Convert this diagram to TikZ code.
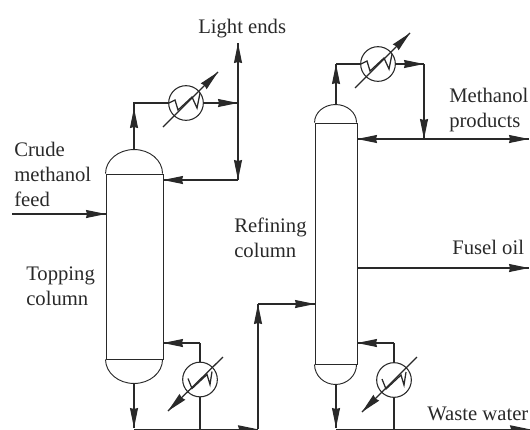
\documentclass[tikz,border=0pt]{standalone}
\usepackage{fontspec}
\setmainfont{Liberation Serif}
\usetikzlibrary{arrows.meta,decorations.markings,calc}
\definecolor{ink}{gray}{0.16}
\tikzset{
  x=0.75pt,y=-0.75pt,
  pipe/.style={draw=ink,line width=0.95pt},
  vessel/.style={draw=ink,line width=0.7pt},
  hxshell/.style={draw=ink,line width=0.8pt,circle,inner sep=0pt,minimum size=26pt},
  coil/.style={draw=ink,line width=0.95pt},
  lbl/.style={text=ink,inner sep=0pt,anchor=base west,align=left,font=\fontsize{15.5}{18.4}\selectfont},
  tipend/.style={postaction={decorate},decoration={markings,mark=at position 1 with {\arrow{Stealth[length=15pt,width=6pt,inset=0.8pt]}}}},
}
\newcommand{\zigzag}[1]{\draw[coil] ($(#1)+(-17,0)$) -- ($(#1)+(-11,-3)$) -- ($(#1)+(-8,7)$) -- ($(#1)+(6,-6)$) -- ($(#1)+(11,5)$) -- ($(#1)+(14,-10)$);}
\begin{document}
\begin{tikzpicture}
\useasboundingbox (0,0) rectangle (530,429);
\clip (0,0) rectangle (530,429);

% column bodies
\node[vessel,rectangle,inner sep=0pt,minimum width=42.75pt,minimum height=138.75pt] (col1) at (134.5,266.5) {};
\node[vessel,rectangle,inner sep=0pt,minimum width=31.5pt,minimum height=180.75pt] (col2) at (336,243.5) {};
\draw[vessel] (col1.north west) arc[start angle=180,end angle=360,x radius=28.5,y radius=24];
\draw[vessel] (col1.south west) arc[start angle=180,end angle=0,x radius=28.5,y radius=24];
\draw[vessel] (col2.north west) arc[start angle=180,end angle=360,x radius=21,y radius=18];
\draw[vessel] (col2.south west) arc[start angle=180,end angle=0,x radius=21,y radius=20];

% exchangers
\node[hxshell] (hx1) at (186,103) {};
\node[hxshell] (hx2) at (378,64) {};
\node[hxshell] (hx3) at (200,379.5) {};
\node[hxshell] (hx4) at (394,380) {};
\zigzag{hx1}
\zigzag{hx2}
\draw[coil] ($(hx3)+(-12,-1)$) -- ($(hx3)+(-8,9)$) -- ($(hx3)+(7,-5)$) -- ($(hx3)+(10,5)$) -- ($(hx3)+(12,-8)$);
\draw[coil] ($(hx4)+(-12,-1)$) -- ($(hx4)+(-8,9)$) -- ($(hx4)+(7,-5)$) -- ($(hx4)+(10,5)$) -- ($(hx4)+(12,-8)$);

% utility diagonals
\coordinate (d1a) at (163,127); \coordinate (d1b) at (218,72);
\coordinate (d2a) at (355,88);  \coordinate (d2b) at (410,33);
\coordinate (d3a) at (223,357); \coordinate (d3b) at (168,411);
\coordinate (d4a) at (417,357); \coordinate (d4b) at (362,412);
\draw[coil,tipend] (d1a) -- (d1b);
\draw[coil,tipend] (d2a) -- (d2b);
\draw[coil,tipend] (d3a) -- (d3b);
\draw[coil,tipend] (d4a) -- (d4b);

% junctions and free ends
\coordinate (c1top) at (134,150);
\coordinate (c1bot) at (134,383);
\coordinate (c2top) at (336,105);
\coordinate (c2bot) at (336,384);
\coordinate (k1) at (134,103);
\coordinate (k1b) at (134,108);
\coordinate (k2) at (238,103);
\coordinate (le) at (238,43);
\coordinate (k3) at (238,180);
\coordinate (r1) at (163,180);
\coordinate (feedS) at (12,214);
\coordinate (feedE) at (106,214);
\coordinate (r2a) at (163,343);
\coordinate (r2b) at (200,343);
\coordinate (b1) at (134,429.3);
\coordinate (b1b) at (134,428);
\coordinate (b2) at (200,429);
\coordinate (b3) at (258,429.3);
\coordinate (u1) at (258,304);
\coordinate (u2) at (315,304);
\coordinate (k4) at (336,64);
\coordinate (k5) at (424,64);
\coordinate (k6) at (424,139);
\coordinate (r3) at (357,139);
\coordinate (mp) at (529,139);
\coordinate (fo1) at (357,268);
\coordinate (fo2) at (529,268);
\coordinate (r4a) at (357,343);
\coordinate (r4b) at (394,343);
\coordinate (b4) at (336,429.3);
\coordinate (b4b) at (336,428);
\coordinate (b5) at (394,429);
\coordinate (ww) at (530,429.3);

% topping column piping
\draw[pipe,tipend] (c1top) -- (k1b);
\draw[pipe] (k1b) -- (k1) -- (hx1.west);
\draw[pipe,tipend] (hx1.east) -- (k2);
\draw[pipe,tipend] (k2) -- (le);
\draw[pipe,tipend] (k2) -- (k3);
\draw[pipe,tipend] (k3) -- (r1);
\draw[pipe,tipend] (feedS) -- (feedE);
\draw[pipe,tipend] (r2b) -- (r2a);
\draw[pipe] (hx3.north) -- (r2b);
\draw[pipe] (hx3.south) -- (b2);
\draw[pipe,tipend] (c1bot) -- (b1b);

% transfer line
\draw[pipe,tipend] (b1) -- (b3);
\draw[pipe,tipend] (b3) -- (u1);
\draw[pipe,tipend] (u1) -- (u2);

% refining column piping
\draw[pipe,tipend] (c2top) -- (k4);
\draw[pipe] (k4) -- (hx2.west);
\draw[pipe,tipend] (hx2.east) -- (k5);
\draw[pipe,tipend] (k5) -- (k6);
\draw[pipe,tipend] (k6) -- (r3);
\draw[pipe,tipend] (k6) -- (mp);
\draw[pipe,tipend] (fo1) -- (fo2);
\draw[pipe,tipend] (r4b) -- (r4a);
\draw[pipe] (hx4.north) -- (r4b);
\draw[pipe] (hx4.south) -- (b5);
\draw[pipe,tipend] (c2bot) -- (b4b);
\draw[pipe,tipend] (b4) -- (ww);

% labels
\node[lbl] (tLight) at (198,33) {Light ends};
\node[lbl] (tCrude) at (14,206) {Crude\\methanol\\feed};
\node[lbl] (tTop) at (26,305) {Topping\\column};
\node[lbl] (tRef) at (234,257) {Refining\\column};
\node[lbl] (tMeth) at (449,127) {Methanol\\products};
\node[lbl] (tFuel) at (452,254) {Fusel oil};
\node[lbl] (tWaste) at (427,420) {Waste water};
\end{tikzpicture}
\end{document}
